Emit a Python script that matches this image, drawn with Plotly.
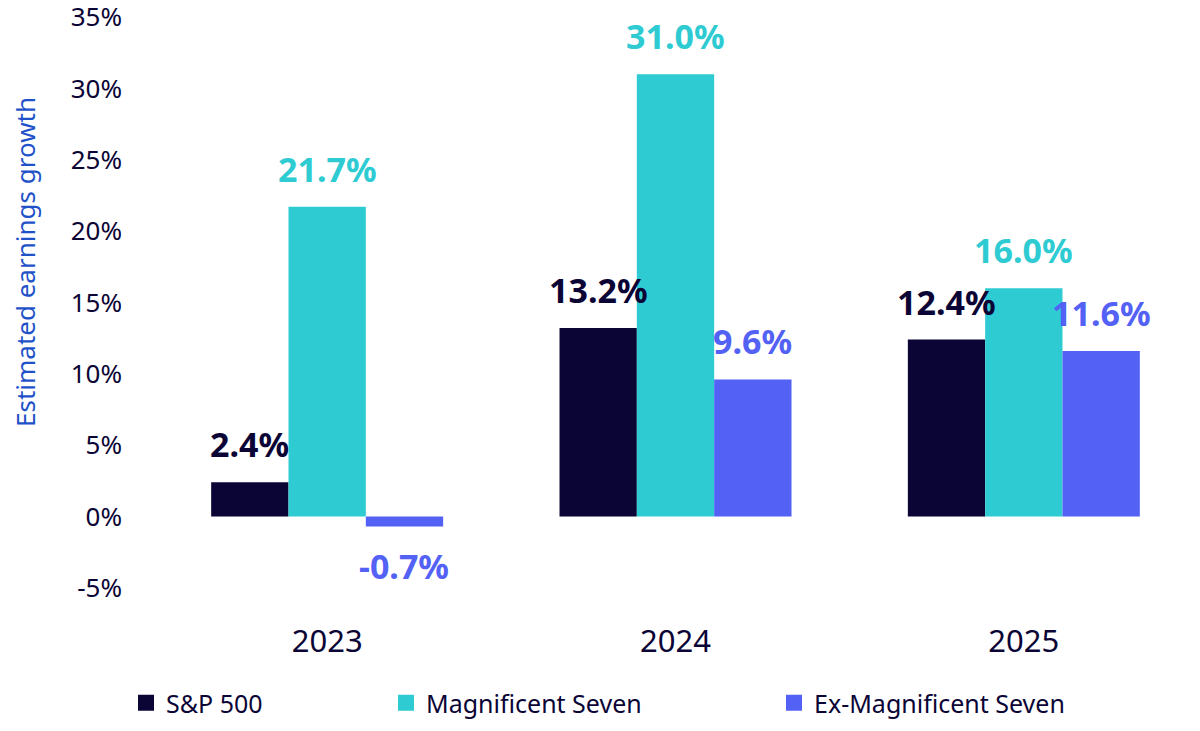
import plotly.graph_objects as go

years = ["2023", "2024", "2025"]
sp500 = [2.4, 13.2, 12.4]
mag7 = [21.7, 31.0, 16.0]
ex_mag7 = [-0.7, 9.6, 11.6]

series_names = ["S&P 500", "Magnificent Seven", "Ex-Magnificent Seven"]
series_colors = ["#0b0536", "#2ecbd2", "#5361f5"]
y_ticks = [-5, 0, 5, 10, 15, 20, 25, 30, 35]

FONT = "Noto Sans"
# the page body adds an 8px margin, so the figure is 8px smaller each way
W, H = 1192, 723
M_L, M_R, M_T, M_B = 145, 2, 2, 129
BARGAP = 0.334

fig = go.Figure()
all_series = [sp500, mag7, ex_mag7]

for name, vals, col in zip(series_names, all_series, series_colors):
    fig.add_trace(go.Bar(x=years, y=vals, name=name, marker_color=col,
                         marker_line_width=0, showlegend=False))

# legend entries as square markers, one legend each so they can be placed freely
legend_ids = ["legend", "legend2", "legend3"]
legend_x = [118, 378, 766]
for name, col, lid in zip(series_names, series_colors, legend_ids):
    fig.add_trace(go.Scatter(x=[years[0]], y=[None], mode="markers", name=name,
                             marker=dict(symbol="square", size=19, color=col),
                             legend=lid, showlegend=True, hoverinfo="skip"))

legend_style = dict(orientation="h", xref="container", yref="container",
                    xanchor="left", yanchor="middle", y=1 - 695 / H,
                    font=dict(family=FONT, size=25, color="#0b0536"),
                    bgcolor="rgba(0,0,0,0)", borderwidth=0)

# value labels above / below each bar (x given as category index)
plot_w = W - M_L - M_R
plot_h = H - M_T - M_B
bar_px = plot_w / len(years) * (1 - BARGAP) / 3
annotations = []
for i, (vals, col) in enumerate(zip(all_series, series_colors)):
    for k, v in enumerate(vals):
        annotations.append(dict(
            x=k, y=v, xref="x", yref="y", text=f"<b>{v:.1f}%</b>",
            showarrow=False, xshift=(i - 1) * bar_px,
            yanchor="middle", yshift=38 if v >= 0 else -40,
            font=dict(family=FONT, size=34, color=col)))

annotations.append(dict(
    text="Estimated earnings growth", textangle=-90, showarrow=False,
    xref="paper", yref="paper", x=(17 - M_L) / plot_w, y=(H - M_B - 254) / plot_h,
    xanchor="center", yanchor="middle",
    font=dict(family=FONT, size=26, color="#1f52c8")))

fig.update_layout(
    width=W, height=H,
    margin=dict(l=M_L, r=M_R, t=M_T, b=M_B, autoexpand=False),
    paper_bgcolor="white", plot_bgcolor="white",
    barmode="group", bargap=BARGAP, bargroupgap=0,
    font=dict(family=FONT, color="#0b0536"),
    legend=dict(legend_style, x=legend_x[0] / W),
    legend2=dict(legend_style, x=legend_x[1] / W),
    legend3=dict(legend_style, x=legend_x[2] / W),
    annotations=annotations,
    xaxis=dict(type="category", range=[-0.5, len(years) - 0.5],
               showgrid=False, showline=False, ticks="", zeroline=False,
               tickfont=dict(family=FONT, size=31, color="#0b0536"),
               ticklabelstandoff=18),
    yaxis=dict(range=[-6, 35.5], tickvals=y_ticks,
               ticktext=[f"{t}%" for t in y_ticks],
               showgrid=False, showline=False, zeroline=False, ticks="",
               ticklabeloverflow="allow",
               tickfont=dict(family=FONT, size=26, color="#0b0536"),
               ticklabelstandoff=30),
)

fig.write_html("out.html")
